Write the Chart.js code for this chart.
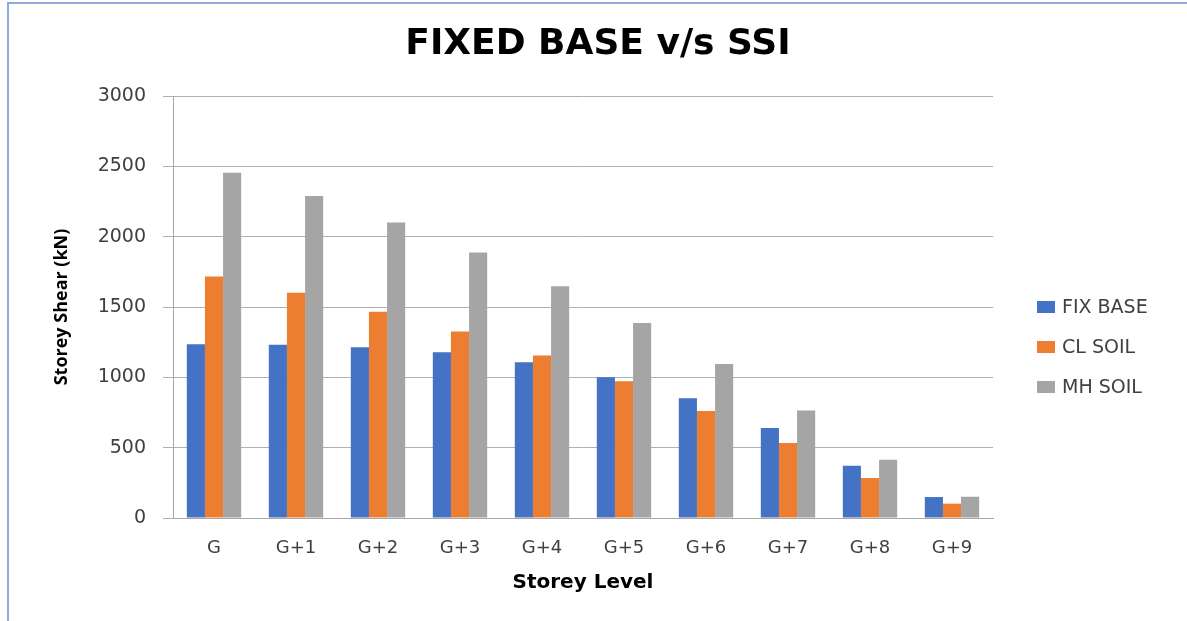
<!DOCTYPE html>
<html>
<head>
<meta charset="utf-8">
<script src="https://cdn.jsdelivr.net/npm/chart.js@4/dist/chart.umd.min.js"></script>
<style>
  html, body { margin: 0; padding: 0; background: #ffffff; }
  #wrap { position: relative; width: 1187px; height: 621px; overflow: hidden; }
  #frame { position: absolute; left: 7px; top: 2px; width: 1300px; height: 700px;
           border-left: 2px solid #8FAADC; border-top: 2px solid #8FAADC; }
  canvas { position: absolute; left: 0; top: 0; }
</style>
</head>
<body>
<div id="wrap">
  <div id="frame"></div>
  <canvas id="c" width="1187" height="621"></canvas>
</div>
<script>
const chartTitle = 'FIXED BASE v/s SSI';
const categories = ['G', 'G+1', 'G+2', 'G+3', 'G+4', 'G+5', 'G+6', 'G+7', 'G+8', 'G+9'];
const fixBase = [1236, 1231, 1214, 1179, 1108, 1000, 852, 639, 371, 149];
const clSoil  = [1716, 1602, 1467, 1325, 1155, 973, 760, 533, 284, 102];
const mhSoil  = [2455, 2289, 2100, 1887, 1648, 1387, 1094, 764, 414, 151];
const seriesNames = ['FIX BASE', 'CL SOIL', 'MH SOIL'];
const seriesColors = ['#4472C4', '#ED7D31', '#A5A5A5'];
const yTicks = [0, 500, 1000, 1500, 2000, 2500, 3000];

const titleAndLegend = {
  id: 'titleAndLegend',
  afterDraw(chart) {
    const ctx = chart.ctx;
    ctx.save();
    // title
    ctx.font = 'bold 36px "DejaVu Sans"';
    ctx.textBaseline = 'middle';
    ctx.textAlign = 'center';
    ctx.fillStyle = '#000000';
    ctx.fillText(chartTitle, 598, 45);
    // legend
    ctx.font = '19px "DejaVu Sans"';
    ctx.textAlign = 'left';
    chart.data.datasets.forEach((ds, i) => {
      const y = 307 + i * 40;
      ctx.fillStyle = ds.backgroundColor;
      ctx.fillRect(1037, y - 6, 18, 12);
      ctx.fillStyle = '#404040';
      ctx.fillText(ds.label, 1062, y + 1);
    });
    ctx.restore();
  }
};

new Chart(document.getElementById('c'), {
  type: 'bar',
  data: {
    labels: categories,
    datasets: [
      { label: seriesNames[0], data: fixBase, backgroundColor: seriesColors[0] },
      { label: seriesNames[1], data: clSoil, backgroundColor: seriesColors[1] },
      { label: seriesNames[2], data: mhSoil, backgroundColor: seriesColors[2] }
    ]
  },
  options: {
    responsive: false,
    animation: false,
    devicePixelRatio: 1,
    layout: { padding: { left: 0, right: 194, top: 96, bottom: 0 } },
    datasets: { bar: { categoryPercentage: 0.663, barPercentage: 1.0, borderWidth: 0 } },
    plugins: {
      legend: { display: false },
      tooltip: { enabled: false },
      title: { display: false }
    },
    scales: {
      x: {
        grid: { display: false, drawTicks: false },
        border: { display: true, color: '#A6A6A6', width: 1 },
        ticks: { color: '#404040', font: { family: '"DejaVu Sans"', size: 18 }, padding: 20, maxRotation: 0 },
        title: {
          display: true, text: 'Storey Level', color: '#000000',
          font: { family: '"DejaVu Sans"', size: 20, weight: 'bold' },
          padding: { top: 0, bottom: 26 }
        },
        afterFit(scale) { scale.height = 103; }
      },
      y: {
        min: 0, max: 3000,
        afterBuildTicks(scale) { scale.ticks = yTicks.map(v => ({ value: v })); },
        grid: { color: '#B0B0B0', lineWidth: 1, drawTicks: true, tickLength: 10 },
        border: { display: true, color: '#A6A6A6', width: 1 },
        ticks: {
          color: '#404040', font: { family: '"DejaVu Sans"', size: 19 }, padding: 17,
          callback: (v) => String(v)
        },
        title: {
          display: true, text: 'Storey Shear (kN)', color: '#000000',
          font: { family: '"Open Sans"', size: 18, weight: 'bold' },
          padding: { top: 51, bottom: 0 }
        },
        afterFit(scale) { scale.width = 173; }
      }
    }
  },
  plugins: [titleAndLegend]
});
</script>
</body>
</html>
